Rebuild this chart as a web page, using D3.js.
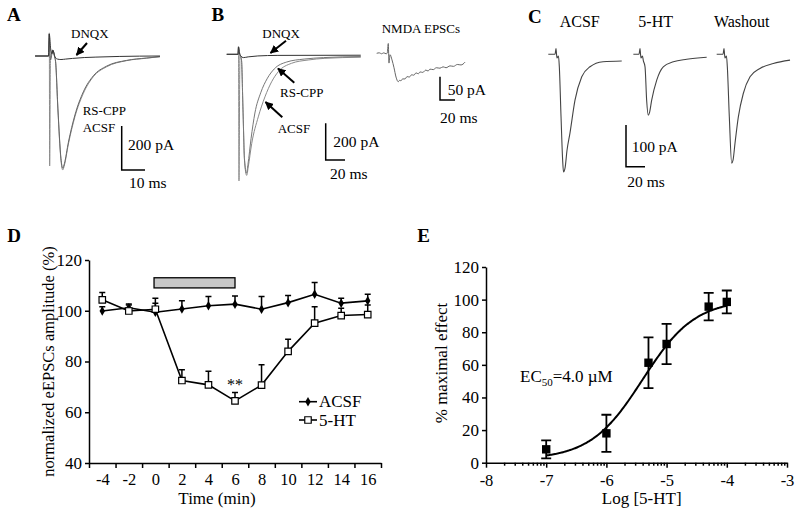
<!DOCTYPE html>
<html><head><meta charset="utf-8">
<script src="https://cdn.jsdelivr.net/npm/d3@7"></script>
<style>
body{margin:0;background:#fff}
svg{display:block}
text{font-family:"Liberation Serif","Times New Roman",serif;fill:#000}
</style>
</head><body>
<svg id="c" width="800" height="518"></svg>
<script>
// ================= DATA =================
// Panel A traces: [time (ms), current (pA)]
const traceA_ACSF = [[-6.1,0],[-0.3,0],[0,105],[0.15,-500],[0.5,-20],[1.5,27],[2.2,0],[2.7,-27],[3.7,-245],[5.0,-473],[5.75,-518],[6.5,-495],[8.2,-400],[11,-276],[14.6,-170],[18.9,-94],[24.6,-49],[33.2,-21],[41.8,-10],[47.5,-3]];
const traceA_CPP  = [[-6.1,0],[-0.3,0],[0,100],[0.5,-18],[1.5,25],[2.2,0],[2.7,-25],[3.7,-240],[5.0,-465],[5.75,-510],[6.5,-488],[8.2,-392],[11,-268],[14.6,-163],[18.9,-90],[24.6,-46],[33.2,-20],[41.8,-9],[47.5,-3]];
const traceA_DNQX = [[-6.1,0],[-0.3,0],[0,100],[0.5,40],[1.2,10],[1.5,27],[2.5,-5],[3.5,-14],[5,-16],[7,-14],[10,-11],[15,-7],[20,-5],[30,-2],[47.5,0]];
// Panel B traces
const traceB_ACSF = [[-12.2,0],[-0.5,0],[0,41],[0.5,-690],[1.5,-4],[3.1,-31],[4.65,-304],[6.2,-577],[8.5,-660],[10.1,-614],[13.7,-486],[20.5,-341],[27.4,-232],[34.3,-150],[41.2,-95],[55,-49],[72.2,-31],[89.5,-22],[126.7,-16]];
const traceB_CPP  = [[-12.2,0],[-0.5,0],[0,41],[1.5,-4],[3.1,-31],[4.65,-300],[6.2,-570],[8.3,-648],[9.8,-600],[13,-460],[17,-320],[23,-210],[30,-130],[37,-80],[50,-42],[68,-26],[88,-18],[126.7,-12]];
const traceB_DNQX = [[-12.2,0],[-0.5,0],[0,40],[1,8],[2.5,-10],[5,-18],[10,-14],[20,-9],[40,-6],[126.7,-5]];
const traceNMDA = [[-15.5,0],[-12,1],[-9,-1],[-6,1],[-3,-1],[-1.5,0],[0,21],[0.9,-21],[2.3,-3],[4.9,-14],[7.6,-31],[10.3,-51],[13.3,-61],[15,-58],[16.9,-59],[19,-55],[22.3,-55],[25,-50],[28,-51],[31.2,-46],[34,-47],[37,-42],[40,-44],[42.3,-40],[46,-41],[50,-36],[53,-38],[55.6,-34],[60,-35],[64,-31],[68.9,-32],[73,-29],[77,-31],[82.3,-27],[87,-28],[92,-24],[97,-25],[102.3,-19]];
// Panel C traces
const traceC_ACSF = [[-8.1,0],[-1,0],[0,14],[1,-9],[2.6,-4],[3.5,-30],[5.3,-150],[7,-254],[7.9,-282],[9.5,-273],[11.6,-230],[14.7,-189],[20,-110],[27.1,-54],[35.8,-30],[49.5,-18],[69.2,-16]];
const traceC_5HT  = [[-7,0],[-1,0],[0,14],[1,-9],[2.6,-4],[3.5,-15],[5.3,-30],[7,-110],[8.7,-146],[10,-140],[12.3,-110],[17.6,-62],[24.5,-30],[35.1,-18],[49.2,-12],[70.2,-7]];
const traceC_Wash = [[-7.7,0],[-1,0],[0,14],[1,-9],[2.6,-4],[3.5,-30],[5.6,-150],[8.1,-261],[9.5,-254],[11.6,-213],[15.1,-150],[20.3,-94],[27.4,-54],[37.9,-34],[51.9,-22],[69.5,-14]];
const cTitles = ["ACSF","5-HT","Washout"];

// Panel D
const timeMin  = [-4,-2,0,2,4,6,8,10,12,14,16];
const acsfMean = [99.9,101.2,99.4,100.7,102.0,102.6,100.6,103.2,106.5,103.0,103.9];
const acsfSem  = [1.7,1.5,3.6,3.2,3.6,3.2,5.0,2.8,4.6,1.9,2.6];
const htMean   = [104.3,99.9,100.6,72.5,70.8,64.5,70.7,84.0,95.1,98.1,98.5];
const htSem    = [2.9,2.4,4.3,4.2,5.4,3.3,8.0,4.8,6.5,2.9,3.8];
const drugTime = [-0.1,6.0];
const drugBand = [109,113];
const dYTicks  = [40,60,80,100,120];
const dXLabels = [-4,-2,0,2,4,6,8,10,12,14,16];
const dXTicks  = [-5,-3,-1,1,3,5,7,9,11,13,15,17];
const dLegend  = ["ACSF","5-HT"];

// Panel E
const logConc   = [-7,-6,-5.301,-5,-4.301,-4];
const effect    = [8.2,18.0,61.3,72.8,95.7,98.6];
const effectSem = [5.5,11.4,15.6,12.3,8.4,7.0];
const hillParams = [2,100,-5.398,1]; // bottom, top, logEC50 (4.0 µM), Hill slope
const eYTicks = [0,20,40,60,80,100,120];
const eXTicks = [-8,-7,-6,-5,-4,-3];

// ================= DRAW =================
const svg = d3.select("#c");
const defs = svg.append("defs");
defs.append("marker").attr("id","ah").attr("viewBox","0 0 10 10").attr("refX",9).attr("refY",5)
  .attr("markerWidth",4.2).attr("markerHeight",4.2).attr("orient","auto")
  .append("path").attr("d","M0,0L10,5L0,10Z").attr("fill","#000");

function txt(x,y,s,size,opts={}){
  const t = svg.append("text").attr("x",x).attr("y",y).attr("font-size",size).text(s);
  if(opts.anchor) t.attr("text-anchor",opts.anchor);
  if(opts.bold) t.attr("font-weight","bold");
  return t;
}
function trace(data,xs,ys,color,w){
  svg.append("path").datum(data)
    .attr("d",d3.line().x(d=>xs(d[0])).y(d=>ys(d[1])).curve(d3.curveMonotoneX))
    .attr("fill","none").attr("stroke",color).attr("stroke-width",w);
}
function arrow(x1,y1,x2,y2){
  svg.append("line").attr("x1",x1).attr("y1",y1).attr("x2",x2).attr("y2",y2)
    .attr("stroke","#000").attr("stroke-width",2).attr("marker-end","url(#ah)");
}
function scaleBar(x0,y0,xs,ys,dt,di){
  const h = Math.abs(ys(0)-ys(-di)), w = Math.abs(xs(dt)-xs(0));
  svg.append("path").attr("d",`M${x0},${y0-h}L${x0},${y0}L${x0+w},${y0}`)
    .attr("fill","none").attr("stroke","#000").attr("stroke-width",1.5);
}

// ---- Panel A
txt(7,20.7,"A",19,{bold:true});
const xA = d3.scaleLinear([0,10],[49.3,72.6]);
const yA = d3.scaleLinear([0,-200],[56,100]);
trace(traceA_ACSF,xA,yA,"#8a8a8a",1);
trace(traceA_CPP,xA,yA,"#666",1);
trace(traceA_DNQX,xA,yA,"#333",1);
txt(71,37.5,"DNQX",13);
arrow(87,43,76.5,55);
txt(82.7,114.5,"RS-CPP",13);
txt(82.7,131.5,"ACSF",13);
scaleBar(121.7,170,xA,yA,10,200);
txt(128,150,"200 pA",15.5);
txt(129,188.3,"10 ms",15.5);

// ---- Panel B
txt(211.5,20.7,"B",19,{bold:true});
const xB = d3.scaleLinear([0,20],[238.5,257.8]);
const yB = d3.scaleLinear([0,-200],[54.3,91]);
trace(traceB_ACSF,xB,yB,"#8a8a8a",1);
trace(traceB_CPP,xB,yB,"#777",1);
trace(traceB_DNQX,xB,yB,"#333",1);
txt(262.3,38.3,"DNQX",13);
arrow(286,40.7,270.5,53);
txt(280,96.7,"RS-CPP",13);
arrow(294.3,82.7,278,68.5);
txt(277.7,133.3,"ACSF",13);
arrow(282.3,117.3,265.5,102);
scaleBar(325.7,160,xB,yB,20,200);
txt(333.3,146.7,"200 pA",15.5);
txt(330,179,"20 ms",15.5);
// NMDA inset
const xN = d3.scaleLinear([0,20],[388.3,403.3]);
const yN = d3.scaleLinear([0,-50],[53.3,76.6]);
trace(traceNMDA,xN,yN,"#666",1);
txt(381.7,33.3,"NMDA EPSCs",13);
scaleBar(440,100,xN,yN,20,50);
txt(447.7,95,"50 pA",15.5);
txt(440,122.7,"20 ms",15.5);

// ---- Panel C
txt(528,23.3,"C",19,{bold:true});
const yC = d3.scaleLinear([0,-100],[54.3,96]);
const cOrigins = [556,640,724];
const cTraces = [traceC_ACSF,traceC_5HT,traceC_Wash];
const cTitleX = [579.7,655.7,741.7];
cTraces.forEach((tr,i)=>{
  const xs = d3.scaleLinear([0,20],[cOrigins[i],cOrigins[i]+19]);
  trace(tr,xs,yC,"#444",1.1);
  txt(cTitleX[i],26.7,cTitles[i],16,{anchor:"middle"});
});
scaleBar(626,166.7,d3.scaleLinear([0,20],[0,19]),yC,20,100);
txt(631.7,151.7,"100 pA",15.5);
txt(627.3,186.7,"20 ms",15.5);

// ---- Panel D
txt(7.3,241.7,"D",19,{bold:true});
const xD = d3.scaleLinear([-5,17],[89,381]);
const yD = d3.scaleLinear([40,120],[463,260]);
const gD = svg.append("g");
function styleAxis(g,size){
  g.attr("font-family",null).attr("font-size",null);
  g.selectAll("text").attr("font-size",size).attr("fill","#000");
  g.selectAll("line,path").attr("stroke","#000").attr("stroke-width",1.5);
}
gD.append("g").attr("transform","translate(0,463)")
  .call(d3.axisBottom(xD).tickValues(dXTicks).tickFormat("").tickSize(5).tickSizeOuter(0))
  .call(g=>styleAxis(g,16.5));
gD.append("g").attr("transform","translate(0,463)")
  .call(d3.axisBottom(xD).tickValues(dXLabels).tickFormat(d=>String(d)).tickSize(0).tickPadding(10))
  .call(g=>{g.select(".domain").remove();styleAxis(g,16.5);});
gD.append("g").attr("transform","translate(89,0)")
  .call(d3.axisLeft(yD).tickValues(dYTicks).tickFormat(d=>String(d)).tickSize(4).tickPadding(3).tickSizeOuter(0))
  .call(g=>styleAxis(g,17));
gD.append("rect").attr("x",xD(drugTime[0])).attr("y",yD(drugBand[1]))
  .attr("width",xD(drugTime[1])-xD(drugTime[0])).attr("height",yD(drugBand[0])-yD(drugBand[1]))
  .attr("fill","#c8c8c8").attr("stroke","#000").attr("stroke-width",1.3);
function upErr(means,sems){
  timeMin.forEach((t,i)=>{
    const x=xD(t), y0=yD(means[i]), y1=yD(means[i]+sems[i]);
    gD.append("path").attr("d",`M${x},${y0}L${x},${y1}M${x-3},${y1}L${x+3},${y1}`)
      .attr("stroke","#000").attr("stroke-width",1.5).attr("fill","none");
  });
}
upErr(acsfMean,acsfSem);
upErr(htMean,htSem);
const lineD = means => d3.line().x((d,i)=>xD(timeMin[i])).y(d=>yD(d))(means);
gD.append("path").attr("d",lineD(acsfMean)).attr("fill","none").attr("stroke","#000").attr("stroke-width",1.6);
gD.append("path").attr("d",lineD(htMean)).attr("fill","none").attr("stroke","#000").attr("stroke-width",1.6);
const diamond = d3.symbol().type(d3.symbolDiamond).size(26);
const square = d3.symbol().type(d3.symbolSquare).size(42);
acsfMean.forEach((v,i)=>gD.append("path").attr("d",diamond()).attr("transform",`translate(${xD(timeMin[i])},${yD(v)})`).attr("fill","#000"));
htMean.forEach((v,i)=>gD.append("path").attr("d",square()).attr("transform",`translate(${xD(timeMin[i])},${yD(v)})`).attr("fill","#fff").attr("stroke","#000").attr("stroke-width",1.2));
txt(xD(6),yD(htMean[5]+htSem[5])-2,"**",16,{anchor:"middle"});
const legY=[401.7,420];
dLegend.forEach((s,i)=>{
  gD.append("line").attr("x1",299).attr("x2",317).attr("y1",legY[i]).attr("y2",legY[i]).attr("stroke","#000").attr("stroke-width",1.6);
  const m = gD.append("path").attr("d",i===0?diamond():square()).attr("transform",`translate(308,${legY[i]})`);
  if(i===0) m.attr("fill","#000"); else m.attr("fill","#fff").attr("stroke","#000").attr("stroke-width",1.2);
  txt(319,legY[i]+5.5,s,17);
});
txt(217,504,"Time (min)",17,{anchor:"middle"});
txt(0,0,"normalized eEPSCs amplitude (%)",16.5,{anchor:"middle"}).attr("transform","translate(54,361.5) rotate(-90)");

// ---- Panel E
txt(417.3,241.7,"E",19,{bold:true});
const xE = d3.scaleLinear([-8,-3],[486,787]);
const yE = d3.scaleLinear([0,120],[462.7,267]);
const gE = svg.append("g");
const minorE = [];
for(let n=-8;n<-3;n++) for(let k=2;k<=9;k++) minorE.push(n+Math.log10(k));
gE.append("g").attr("transform","translate(0,462.7)")
  .call(d3.axisBottom(xE).tickValues(minorE).tickFormat("").tickSize(3).tickSizeOuter(0))
  .call(g=>styleAxis(g,16.5));
gE.append("g").attr("transform","translate(0,462.7)")
  .call(d3.axisBottom(xE).tickValues(eXTicks).tickFormat(d=>String(d)).tickSize(5).tickPadding(7).tickSizeOuter(0))
  .call(g=>{g.select(".domain").remove();styleAxis(g,16.5);});
gE.append("g").attr("transform","translate(486,0)")
  .call(d3.axisLeft(yE).tickValues(eYTicks).tickFormat(d=>String(d)).tickSize(4).tickPadding(3).tickSizeOuter(0))
  .call(g=>styleAxis(g,17));
const [hb,ht,hlog,hs] = hillParams;
const fit = d3.range(logConc[0],logConc[logConc.length-1]+0.001,0.02).map(x=>[x,hb+(ht-hb)/(1+Math.pow(10,(hlog-x)*hs))]);
gE.append("path").attr("d",d3.line().x(d=>xE(d[0])).y(d=>yE(d[1])).curve(d3.curveBasis)(fit))
  .attr("fill","none").attr("stroke","#000").attr("stroke-width",2);
logConc.forEach((c,i)=>{
  const x=xE(c), yt=yE(effect[i]+effectSem[i]), yb=yE(effect[i]-effectSem[i]);
  gE.append("path").attr("d",`M${x},${yt}L${x},${yb}M${x-5},${yt}L${x+5},${yt}M${x-5},${yb}L${x+5},${yb}`)
    .attr("stroke","#000").attr("stroke-width",1.8).attr("fill","none");
  gE.append("rect").attr("x",x-4.2).attr("y",yE(effect[i])-4.2).attr("width",8.4).attr("height",8.4).attr("fill","#000");
});
const ec = svg.append("text").attr("x",520).attr("y",382).attr("font-size",17);
ec.append("tspan").text("EC");
ec.append("tspan").attr("font-size",11).attr("dy",4).text("50");
ec.append("tspan").attr("dy",-4).text("=4.0 µM");
txt(641.7,504,"Log [5-HT]",17,{anchor:"middle"});
txt(0,0,"% maximal effect",17,{anchor:"middle"}).attr("transform","translate(447,363) rotate(-90)");
</script>
</body></html>
